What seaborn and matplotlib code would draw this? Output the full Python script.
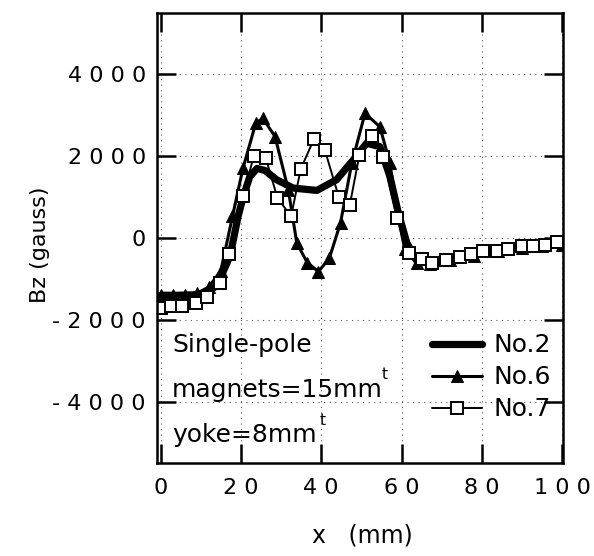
import numpy as np
import pandas as pd
import matplotlib
matplotlib.use("Agg")
import matplotlib.pyplot as plt
from matplotlib.ticker import FuncFormatter
import seaborn as sns

# No.2 - thick line, no markers
x_no2 = [0, 4, 8, 11, 14, 17.3, 19.3, 20.6, 22.2, 24, 26, 28.9, 33, 38.9, 43.8, 48, 51.3, 54.6, 57.1, 59.2, 61.3, 63.8,
         67, 72, 78, 84, 90, 95, 100]
bz_no2 = [-1400, -1400, -1390, -1350, -1170, -440, 530, 1017, 1500, 1700, 1650, 1423, 1221, 1163, 1423, 1910, 2316, 2234,
          1504, 613, -117, -560, -620, -540, -420, -320, -240, -190, -160]

# No.6 - thin line, filled triangles
x_no6 = [0, 3, 6, 9, 12, 15, 17.9, 20.5, 23.7, 25.5, 28.5, 31.8, 33.9, 36.5, 39.3, 42, 44.8, 47.6, 50.9, 54.6, 57.1,
         58.8, 60.8, 63.8, 67, 72, 78, 84, 90, 95, 100]
bz_no6 = [-1400, -1400, -1390, -1350, -1200, -800, 530, 1700, 2810, 2925, 2477, 1180, -117, -600, -820, -500, 370, 1830,
          3046, 2720, 1830, 693, -280, -600, -640, -550, -430, -330, -250, -200, -160]

# No.7 - thin line, open squares
x_no7 = [0, 2.5, 5.4, 8.7, 11.6, 14.8, 17.1, 20.6, 23.2, 26.2, 29.1, 32.5, 34.9, 38.2, 40.9, 44.4, 47.1, 49.5, 52.7,
         55.4, 58.9, 61.9, 65.2, 67.7, 71.1, 74.5, 77.3, 80.3, 83.7, 86.6, 89.9, 92.8, 95.7, 98.6]
bz_no7 = [-1715, -1667, -1660, -1594, -1448, -1107, -385, 1017, 2015, 1950, 978, 530, 1690, 2420, 2150, 993, 800, 2030,
          2490, 1975, 490, -360, -523, -605, -547, -467, -401, -321, -321, -263, -199, -199, -182, -102]

x_ticks = [0, 20, 40, 60, 80, 100]
y_ticks = [-4000, -2000, 0, 2000, 4000]

sns.set_style("ticks")
plt.rcParams['font.family'] = ['DejaVu Sans']
plt.rcParams['text.color'] = 'black'
plt.rcParams['axes.labelcolor'] = 'black'

fig = plt.figure(figsize=(5.94, 5.56), dpi=100)
ax = fig.add_axes([0.2643, 0.1673, 0.6835, 0.8093])

df2 = pd.DataFrame({"x": x_no2, "Bz": bz_no2})
df6 = pd.DataFrame({"x": x_no6, "Bz": bz_no6})
df7 = pd.DataFrame({"x": x_no7, "Bz": bz_no7})

sns.lineplot(data=df2, x="x", y="Bz", ax=ax, color="black", linewidth=5.2, sort=False,
             estimator=None, label="No.2")
sns.lineplot(data=df6, x="x", y="Bz", ax=ax, color="black", linewidth=2.2, marker="^", markersize=8,
             markerfacecolor="black", markeredgecolor="black", sort=False, estimator=None, label="No.6")
sns.lineplot(data=df7, x="x", y="Bz", ax=ax, color="black", linewidth=1.4, marker="s", markersize=9,
             markerfacecolor="white", markeredgecolor="black", markeredgewidth=1.4, sort=False,
             estimator=None, label="No.7")

ax.set_xlim(-0.9, 100.2)
ax.set_ylim(-5500, 5500)
ax.set_xticks(x_ticks)
ax.set_yticks(y_ticks)

spaced = FuncFormatter(lambda v, p: " ".join(str(int(round(v)))))
ax.xaxis.set_major_formatter(spaced)
ax.yaxis.set_major_formatter(spaced)

ax.tick_params(axis="both", which="major", direction="in", length=14, width=1.8,
               top=True, right=True, labelsize=16, colors="black")
ax.tick_params(axis="x", pad=11)
ax.tick_params(axis="y", pad=8)
for s in ax.spines.values():
    s.set_linewidth(1.8)
    s.set_color("black")

ax.grid(True, linestyle=(0, (1, 4)), color="0.35", linewidth=0.8)

ax.set_xlabel("x   (mm)", fontsize=17)
ax.set_ylabel("Bz (gauss)", fontsize=16)
ax.xaxis.set_label_coords(0.505, -0.135)
ax.yaxis.set_label_coords(-0.264, 0.484)

ax.text(0.037, 0.247, "Single-pole", transform=ax.transAxes, fontsize=18, va="baseline")
ax.text(0.037, 0.147, "magnets=15mm", transform=ax.transAxes, fontsize=18, va="baseline")
ax.text(0.037, 0.047, "yoke=8mm", transform=ax.transAxes, fontsize=18, va="baseline")
ax.text(0.554, 0.213, "t", transform=ax.transAxes, fontsize=11, va="top")
ax.text(0.401, 0.111, "t", transform=ax.transAxes, fontsize=11, va="top")

ax.legend(loc="lower right", bbox_to_anchor=(0.995, 0.07), frameon=False, fontsize=18,
          handlelength=2.0, handletextpad=0.45, labelspacing=0.32, numpoints=1, borderaxespad=0)

fig.savefig("out.png", dpi=100)
